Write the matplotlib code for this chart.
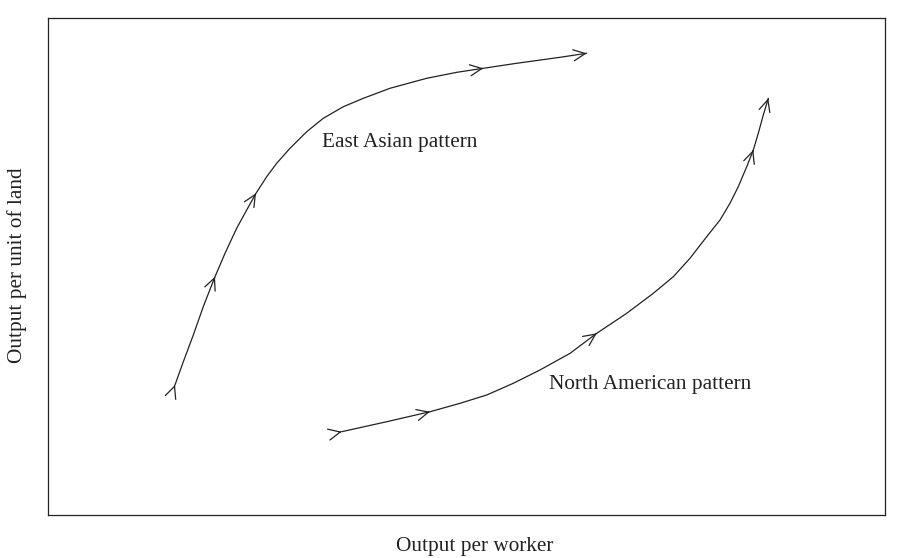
import numpy as np
import matplotlib
matplotlib.use("Agg")
import matplotlib.pyplot as plt

# East Asian pattern path (output per worker, output per unit of land)
ea_x = [1.517, 1.617, 1.736, 1.855, 1.995, 2.115, 2.254, 2.374, 2.485, 2.613, 2.732, 2.891,
        3.091, 3.289, 3.528, 3.767, 4.086, 4.525, 4.883, 5.201, 5.600, 6.117, 6.436]
ea_y = [2.616, 3.085, 3.622, 4.191, 4.795, 5.266, 5.769, 6.137, 6.473, 6.807, 7.076, 7.378,
        7.712, 7.982, 8.215, 8.384, 8.586, 8.787, 8.907, 8.988, 9.089, 9.209, 9.290]
ea_arrows = [0, 4, 8, 19, 22]

# North American pattern path
na_x = [3.509, 4.047, 4.564, 4.922, 5.241, 5.559, 5.878, 6.237, 6.556, 6.914, 7.232,
        7.471, 7.670, 7.870, 8.029, 8.148, 8.247, 8.348, 8.427, 8.486, 8.546, 8.606]
na_y = [1.676, 1.877, 2.078, 2.247, 2.414, 2.650, 2.918, 3.253, 3.656, 4.058, 4.461,
        4.795, 5.165, 5.600, 5.936, 6.272, 6.606, 7.008, 7.344, 7.680, 8.048, 8.384]
na_arrows = [0, 2, 8, 18, 21]

labels = {"East Asian pattern": (3.27, 7.50), "North American pattern": (5.98, 2.62)}
xlabel = "Output per worker"
ylabel = "Output per unit of land"

plt.rcParams['font.family'] = ['Liberation Serif', 'DejaVu Serif']
fig = plt.figure(figsize=(9, 5.58), dpi=100)
ax = fig.add_axes([48/900, 43/558, 837/900, 497/558])
ax.set_xlim(0, 10)
ax.set_ylim(0, 10)
ax.set_xticks([])
ax.set_yticks([])
for s in ax.spines.values():
    s.set_linewidth(0.9)
    s.set_color('#222222')

col = '#222222'

def draw(xs, ys, arrows):
    xs = np.asarray(xs); ys = np.asarray(ys)
    ax.plot(xs, ys, color=col, lw=0.9, solid_capstyle='round', solid_joinstyle='round')
    n = len(xs)
    for i in arrows:
        a = max(i - 1, 0); b = min(i + 1, n - 1)
        d = np.array([xs[b] - xs[a], ys[b] - ys[a]])
        d = d / np.hypot(*d)
        p = np.array([xs[i], ys[i]])
        ax.annotate('', xy=p, xytext=p - 0.02 * d,
                    arrowprops=dict(arrowstyle='->,head_length=0.85,head_width=0.4',
                                    color=col, lw=0.9, shrinkA=0, shrinkB=0,
                                    mutation_scale=10))

draw(ea_x, ea_y, ea_arrows)
draw(na_x, na_y, na_arrows)

for t, (x, y) in labels.items():
    ax.text(x, y, t, fontsize=15.3, color=col, ha='left', va='center')

ax.set_xlabel(xlabel, fontsize=15.3, color=col, va='center', ha='center')
ax.xaxis.set_label_coords(0.51, -0.064)
ax.set_ylabel(ylabel, fontsize=15.3, color=col, va='center', ha='center')
ax.yaxis.set_label_coords(-0.037, 0.503)

fig.savefig('out.png', dpi=100)
